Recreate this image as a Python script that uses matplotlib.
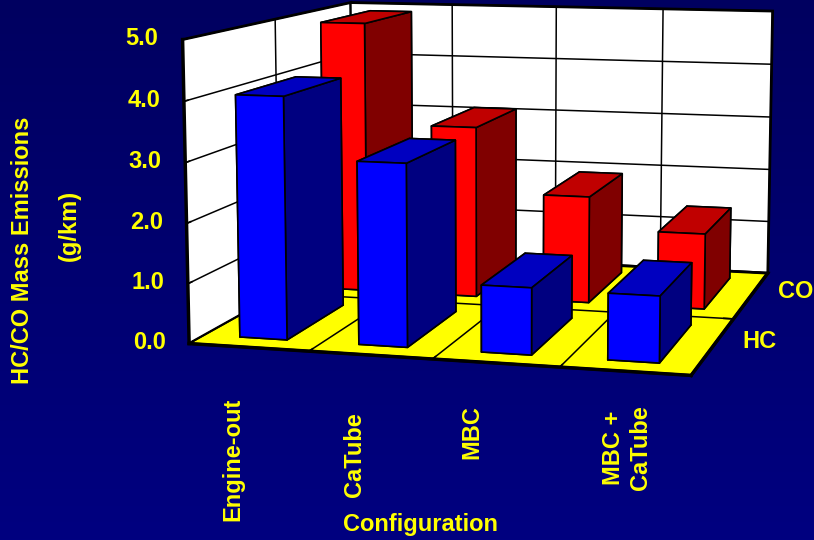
import numpy as np
import matplotlib
matplotlib.use("Agg")
import matplotlib.pyplot as plt
from mpl_toolkits.mplot3d import proj3d

categories = ["Engine-out", "CaTube", "MBC", "MBC +\nCaTube"]
series = ["HC", "CO"]
hc_values = [4.05, 3.03, 1.10, 1.08]
co_values = [4.90, 3.08, 1.91, 1.34]
z_ticks = [0.0, 1.0, 2.0, 3.0, 4.0, 5.0]

plt.rcParams['font.family'] = ['Liberation Sans', 'DejaVu Sans']
plt.rcParams['font.weight'] = 'bold'
YEL = '#FFFF00'

fig = plt.figure(figsize=(8.14, 5.40), dpi=100)
bg = fig.add_axes([0, 0, 1, 1], zorder=0)
bg.imshow(np.linspace(0, 1, 256).reshape(-1, 1), aspect='auto', extent=(0, 1, 0, 1),
          cmap=matplotlib.colors.LinearSegmentedColormap.from_list('b', ['#000060', '#000080']))
bg.axis('off')

ax = fig.add_axes([0.1055, 0.1785, 1.0, 1.0], projection='3d', computed_zorder=False, zorder=1)
ax.patch.set_alpha(0)
ax.set_proj_type('persp', focal_length=0.75)
ax.view_init(elev=8.5, azim=-75)
ax.set_box_aspect((2.0, 2.0, 1.2), zoom=1.31)
ax.set_xlim(0, 4); ax.set_ylim(0, 2); ax.set_zlim(0, 5)

for axis, col in ((ax.xaxis, 'white'), (ax.yaxis, 'white'), (ax.zaxis, YEL)):
    axis.set_pane_color(col)
    axis.pane.set_edgecolor('black')
    axis.pane.set_linewidth(2)
    axis.line.set_color('black')
    axis.line.set_linewidth(2.5)
    axis._axinfo['grid'].update(color='black', linewidth=1.1)
    axis._axinfo['tick'].update(inward_factor=0.0, outward_factor=0.25, linewidth={True: 1.2, False: 1.2}, color='black')

ax.set_xticks(range(5)); ax.set_xticklabels([])
ax.set_yticks(range(3)); ax.set_yticklabels([])
ax.set_zticks(z_ticks); ax.set_zticklabels([])
ax.tick_params(axis='z', color='black')
ax.zaxis.set_ticks_position('lower')

w, d = 0.40, 0.68
def bar(xc, yc, h, front, side, top):
    ax.bar3d(xc - w/2, yc - d/2, 0, w, d, h,
             color=[top, top, front, side, side, side], shade=False,
             edgecolor='black', linewidth=1.2)

for i in range(len(categories)):
    bar(i + 0.5, 1.5, co_values[i], '#FF0000', '#800000', '#C00000')
for i in range(len(categories)):
    bar(i + 0.5, 0.5, hc_values[i], '#0000FF', '#000080', '#0000C0')

txt = dict(color=YEL, fontsize=17, fontweight='bold')
fig.canvas.draw()
M = ax.get_proj()
W, H = fig.canvas.get_width_height()
for v in z_ticks:
    X, Y, _ = proj3d.proj_transform(-0.2, 0, v, M)
    pix = ax.transData.transform((X, Y))
    fig.text(pix[0] / W, pix[1] / H, f"{v:.1f}", ha='right', va='center', **txt)

px = lambda x, y: (x / 814, 1 - y / 540)
fig.text(*px(233, 398), categories[0], rotation=90, ha='center', va='top', **txt)
fig.text(*px(354, 412), categories[1], rotation=90, ha='center', va='top', **txt)
fig.text(*px(472, 405), categories[2], rotation=90, ha='center', va='top', **txt)
fig.text(*px(627, 405), categories[3], rotation=90, ha='center', va='top', linespacing=1.2, multialignment='center', **txt)
fig.text(*px(420, 525), "Configuration", ha='center', va='center', **txt)
fig.text(*px(23, 250), "HC/CO Mass Emissions", rotation=90, ha='center', va='center', **txt)
fig.text(*px(69, 225), "(g/km)", rotation=90, ha='center', va='center', **txt)
fig.text(*px(759, 342), series[0], ha='center', va='center', **txt)
fig.text(*px(796, 292), series[1], ha='center', va='center', **txt)

fig.savefig('out.png', dpi=100)
